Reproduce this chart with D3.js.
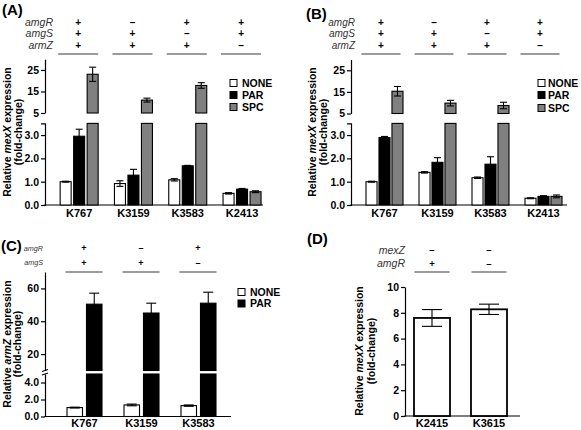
<!DOCTYPE html>
<html><head><meta charset="utf-8">
<script src="https://cdn.jsdelivr.net/npm/d3@7/dist/d3.min.js"></script>
<style>body{margin:0;background:#fff} text{font-family:"Liberation Sans",Arial,sans-serif}</style>
</head><body><svg id="c" width="581" height="430"></svg>
<script>
// ---------- DATA ----------
const strainsAB = ["K767","K3159","K3583","K2413"];
const seriesAB = ["NONE","PAR","SPC"];
const aNone = [1.0, 0.92, 1.08, 0.5],  aNoneErr = [0.02, 0.12, 0.05, 0.03];
const aPar  = [2.95, 1.28, 1.68, 0.68], aParErr = [0.3, 0.25, 0.02, 0.03];
const aSpc  = [23, 11, 17.8, 0.57],    aSpcErr  = [3.3, 0.9, 1.3, 0.04];
const bNone = [1.0, 1.4, 1.17, 0.29],  bNoneErr = [0.02, 0.03, 0.03, 0.02];
const bPar  = [2.89, 1.83, 1.75, 0.37], bParErr = [0.05, 0.2, 0.32, 0.03];
const bSpc  = [15.3, 9.8, 8.7, 0.37],  bSpcErr  = [2.2, 1.3, 1.5, 0.06];
const genesAB = ["amgR","amgS","armZ"];
const signsAB = [["+","–","+","+"],["+","+","–","+"],["+","+","+","–"]];
const abLowTicks = [0,1,2,3], abHighTicks = [5,15,25];

const strainsC = ["K767","K3159","K3583"];
const seriesC = ["NONE","PAR"];
const cNone = [1.05, 1.36, 1.28], cNoneErr = [0.05, 0.1, 0.08];
const cPar  = [50.4, 45, 51],     cParErr  = [6.7, 6, 6.7];
const genesC = ["amgR","amgS"];
const signsC = [["+","–","+"],["+","+","–"]];
const cLowTicks = [0,2,4], cHighTicks = [20,40,60];

const strainsD = ["K2415","K3615"];
const dVals = [7.6, 8.27], dErr = [0.65, 0.4];
const genesD = ["mexZ","amgR"];
const signsD = [["–","–"],["+","–"]];
const dTicks = [0,2,4,6,8,10];

// ---------- DRAW ----------
const svg = d3.select("#c");
const FILLS = {NONE:"#fff", PAR:"#000", SPC:"#808080"};

function styleAxis(sel, fs){
  sel.select(".domain").attr("stroke","#000").attr("stroke-width",1.2);
  sel.selectAll(".tick line").attr("stroke","#000").attr("stroke-width",1.2);
  sel.selectAll(".tick text").attr("fill","#000").attr("font-size",fs).attr("font-weight","bold")
     .style("font-family",'"Liberation Sans",Arial,sans-serif');
}

function panel(cfg){
  const g = svg.append("g");
  const x0 = d3.scaleBand().domain(cfg.cats).range(cfg.bandRange);
  const x1 = d3.scaleBand().domain(cfg.seriesNames).range([0,cfg.subSpan]).paddingInner(cfg.subPad);
  const off = (x0.step()-cfg.subSpan)/2;
  const yL = d3.scaleLinear().domain(cfg.low.domain).range(cfg.low.range);
  const yH = cfg.high ? d3.scaleLinear().domain(cfg.high.domain).range(cfg.high.range) : null;

  g.append("g").attr("transform",`translate(${cfg.axisX},0)`)
    .call(d3.axisLeft(yL).tickValues(cfg.low.ticks).tickSize(4).tickSizeOuter(cfg.low.outer||0).tickPadding(2))
    .call(s=>styleAxis(s,cfg.tickFs));
  if(yH){
    g.append("g").attr("transform",`translate(${cfg.axisX},0)`)
      .call(d3.axisLeft(yH).tickValues(cfg.high.ticks).tickSize(4).tickSizeOuter(0).tickPadding(2))
      .call(s=>styleAxis(s,cfg.tickFs));
  }
  g.append("line").attr("x1",cfg.axisX-0.6).attr("x2",cfg.xEnd).attr("y1",yL(0)).attr("y2",yL(0))
    .attr("stroke","#000").attr("stroke-width",1.2);
  g.append("g").attr("transform",`translate(0,${yL(0)})`)
    .call(d3.axisBottom(x0).tickSize(0).tickPadding(cfg.labelPad))
    .call(s=>{s.select(".domain").remove(); s.selectAll(".tick text").attr("font-size",11).attr("font-weight","bold").attr("fill","#000")
      .style("font-family",'"Liberation Sans",Arial,sans-serif');});

  cfg.series.forEach((s,si)=>{
    const name = cfg.seriesNames[si];
    s.vals.forEach((v,i)=>{
      const bx = x0(cfg.cats[i]) + off + x1(name), bw = x1.bandwidth();
      const lowTop = Math.min(v, cfg.low.domain[1]);
      g.append("rect").attr("x",bx).attr("y",yL(lowTop)).attr("width",bw).attr("height",yL(0)-yL(lowTop))
        .attr("fill",FILLS[name]).attr("stroke","#000").attr("stroke-width",cfg.barStroke);
      let ys = yL;
      if(yH && v>cfg.high.domain[0]){
        ys = yH;
        g.append("rect").attr("x",bx).attr("y",yH(v)).attr("width",bw).attr("height",yH(cfg.high.domain[0])-yH(v))
          .attr("fill",FILLS[name]).attr("stroke","#000").attr("stroke-width",cfg.barStroke);
      }
      const e = s.errs[i], cx = bx+bw/2, cw = cfg.capW/2;
      const eg = g.append("g").attr("stroke","#000").attr("stroke-width",1.1);
      eg.append("line").attr("x1",cx).attr("x2",cx).attr("y1",ys(v-e)).attr("y2",ys(v+e));
      eg.append("line").attr("x1",cx-cw).attr("x2",cx+cw).attr("y1",ys(v+e)).attr("y2",ys(v+e));
      eg.append("line").attr("x1",cx-cw).attr("x2",cx+cw).attr("y1",ys(v-e)).attr("y2",ys(v-e));
    });
  });
  return {x0, off, subSpan:cfg.subSpan, yL, yH};
}

function legend(sqX, ys, names, textX){
  names.forEach((n,i)=>{
    svg.append("rect").attr("x",sqX).attr("y",ys[i]-3.5).attr("width",7).attr("height",7)
      .attr("fill",FILLS[n]).attr("stroke","#000").attr("stroke-width",1);
    svg.append("text").attr("x",textX).attr("y",ys[i]).attr("dy","0.36em").attr("font-size",10.5)
      .attr("font-weight","bold").text(n);
  });
}

function geno(p, cats, labelX, rowYs, genes, signs, lfs, sfs, shift, ulY, ulHalf){
  genes.forEach((gn,r)=>{
    svg.append("text").attr("x",labelX).attr("y",rowYs[r]).attr("dy","0.35em").attr("text-anchor","end")
      .attr("font-size",lfs).attr("font-style","italic").attr("fill","#333").text(gn);
    cats.forEach((c,i)=>{
      const cx = p.x0(c)+p.x0.step()/2+shift;
      svg.append("text").attr("x",cx).attr("y",rowYs[r]).attr("dy","0.35em").attr("text-anchor","middle")
        .attr("font-size",sfs).attr("font-weight","bold").attr("fill","#000").text(signs[r][i]);
    });
  });
  cats.forEach(c=>{
    const cx = p.x0(c)+p.x0.step()/2+shift;
    svg.append("line").attr("x1",cx-ulHalf).attr("x2",cx+ulHalf).attr("y1",ulY).attr("y2",ulY)
      .attr("stroke","#7a7a7a").attr("stroke-width",1.3);
  });
}

function ylabel(cx1, cx2, cy, gene, fs){
  const t1 = svg.append("text").attr("transform",`translate(${cx1},${cy}) rotate(-90)`).attr("dy","0.35em")
    .attr("text-anchor","middle").attr("font-size",fs).attr("font-weight","bold");
  t1.append("tspan").text("Relative ");
  t1.append("tspan").attr("font-style","italic").text(gene);
  t1.append("tspan").text(" expression");
  svg.append("text").attr("transform",`translate(${cx2},${cy}) rotate(-90)`).attr("dy","0.35em")
    .attr("text-anchor","middle").attr("font-size",fs).attr("font-weight","bold").text("(fold-change)");
}

function plabel(x,y,t){ svg.append("text").attr("x",x).attr("y",y).attr("font-size",15).attr("font-weight","bold").text(t); }

// Panel A
const pA = panel({cats:strainsAB, seriesNames:seriesAB, axisX:45, xEnd:263, bandRange:[52,269.2], subSpan:38, subPad:0.185,
  capW:7, barStroke:1.1, tickFs:10.5, labelPad:4,
  low:{domain:[0,3.5], range:[205,123.4], ticks:abLowTicks, outer:4},
  high:{domain:[5,30], range:[113,59.2], ticks:abHighTicks},
  series:[{vals:aNone,errs:aNoneErr},{vals:aPar,errs:aParErr},{vals:aSpc,errs:aSpcErr}]});
geno(pA, strainsAB, 53, [22.7,33.5,45], genesAB, signsAB, 10.5, 10, -1, 54, 20);
legend(230, [83,95,107], seriesAB, 242);
ylabel(7, 18, 132, "mexX", 10.5);
plabel(2, 15, "(A)");

// Panel B
const pB = panel({cats:strainsAB, seriesNames:seriesAB, axisX:351, xEnd:567, bandRange:[358,570], subSpan:37, subPad:0.15,
  capW:7, barStroke:1.1, tickFs:10.5, labelPad:4,
  low:{domain:[0,3.5], range:[205,123.4], ticks:abLowTicks, outer:4},
  high:{domain:[5,30], range:[113.5,59.5], ticks:abHighTicks},
  series:[{vals:bNone,errs:bNoneErr},{vals:bPar,errs:bParErr},{vals:bSpc,errs:bSpcErr}]});
geno(pB, strainsAB, 355, [22,33.3,45], genesAB, signsAB, 10, 10, -3.5, 54, 19.5);
legend(538, [83,95,108], seriesAB, 548);
ylabel(312.5, 323, 132, "mexX", 10.5);
plabel(306, 19, "(B)");

// Panel C
const pC = panel({cats:strainsC, seriesNames:seriesC, axisX:45, xEnd:231, bandRange:[56,227], subSpan:35, subPad:0.205,
  capW:10, barStroke:1.1, tickFs:10.5, labelPad:3,
  low:{domain:[0,5], range:[416.5,374], ticks:cLowTicks, outer:0},
  high:{domain:[10,70], range:[370.5,272], ticks:cHighTicks},
  series:[{vals:cNone,errs:cNoneErr},{vals:cPar,errs:cParErr}]});
[370.5,374].forEach(y=>svg.append("line").attr("x1",42).attr("x2",48).attr("y1",y+1).attr("y2",y-1)
  .attr("stroke","#000").attr("stroke-width",1.1));
geno(pC, strainsC, 43, [248.3,262.7], genesC, signsC, 7.2, 9, -0.5, 272, 18.5);
legend(238, [292,303.5], seriesC, 250);
ylabel(7, 17.5, 344, "armZ", 10.5);
plabel(1, 251, "(C)");

// Panel D
const xD = d3.scaleBand().domain(strainsD).range([403.5,517.5]);
const yD = d3.scaleLinear().domain([0,10]).range([416,287]);
svg.append("g").attr("transform","translate(405,0)")
  .call(d3.axisLeft(yD).tickValues(dTicks).tickSize(4).tickSizeOuter(0).tickPadding(2))
  .call(s=>styleAxis(s,10.5));
svg.append("line").attr("x1",404.4).attr("x2",520).attr("y1",yD(0)).attr("y2",yD(0)).attr("stroke","#000").attr("stroke-width",1.2);
svg.append("g").attr("transform",`translate(0,${yD(0)})`)
  .call(d3.axisBottom(xD).tickSize(0).tickPadding(3))
  .call(s=>{s.select(".domain").remove(); s.selectAll(".tick text").attr("font-size",11).attr("font-weight","bold").attr("fill","#000")
    .style("font-family",'"Liberation Sans",Arial,sans-serif');});
strainsD.forEach((c,i)=>{
  const bw = 36, bx = xD(c)+(xD.step()-bw)/2, cx = bx+bw/2, v = dVals[i], e = dErr[i];
  svg.append("rect").attr("x",bx).attr("y",yD(v)).attr("width",bw).attr("height",yD(0)-yD(v))
    .attr("fill","#fff").attr("stroke","#000").attr("stroke-width",1.8);
  const eg = svg.append("g").attr("stroke","#000").attr("stroke-width",1.1);
  eg.append("line").attr("x1",cx).attr("x2",cx).attr("y1",yD(v-e)).attr("y2",yD(v+e));
  eg.append("line").attr("x1",cx-10).attr("x2",cx+10).attr("y1",yD(v+e)).attr("y2",yD(v+e));
  eg.append("line").attr("x1",cx-10).attr("x2",cx+10).attr("y1",yD(v-e)).attr("y2",yD(v-e));
});
geno({x0:xD}, strainsD, 405, [250,263.3], genesD, signsD, 10.5, 9.5, 0, 272, 17.5);
ylabel(359, 371, 351, "mexX", 10.5);
plabel(307, 244, "(D)");
</script></body></html>
